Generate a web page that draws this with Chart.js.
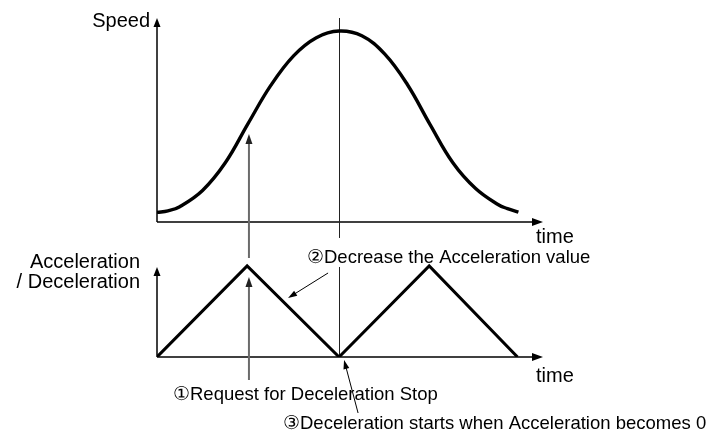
<!DOCTYPE html>
<html>
<head>
<meta charset="utf-8">
<script src="https://cdn.jsdelivr.net/npm/chart.js@4/dist/chart.umd.min.js"></script>
<style>
html,body{margin:0;padding:0;background:#fff}
canvas{display:block}
</style>
</head>
<body>
<canvas id="c" width="717" height="434"></canvas>
<script>
// speed profile: time (unit steps) vs speed (% of peak)
const speedTime=[0,0.12,0.25,0.5,0.75,1.0,1.25,1.5,1.75,2.0,2.25,2.5,2.75,3.0,3.25,3.5,3.75,3.85,3.97];
const speedVal=[5,5.8,8,16.5,31,51.5,71.5,87,96.5,100,97.5,88,72,51,31,17.5,9,7,5.2];
// acceleration / deceleration (% of max)
const accTime=[0,0.99,2,2.99,3.96];
const accVal=[0,100,0,100,0];

const BIG='20px "Liberation Sans", Arial, sans-serif';
const SMALL='18.5px "Liberation Sans", Arial, sans-serif';

function seg(ctx,x1,y1,x2,y2){ctx.beginPath();ctx.moveTo(x1,y1);ctx.lineTo(x2,y2);ctx.stroke();}

// line ending in a filled head at (x2,y2)
function arrow(ctx,x1,y1,x2,y2,len,half){
    const a=Math.atan2(y2-y1,x2-x1),c=Math.cos(a),s=Math.sin(a);
    seg(ctx,x1,y1,x2-c*len*0.6,y2-s*len*0.6);
    ctx.beginPath();
    ctx.moveTo(x2,y2);
    ctx.lineTo(x2-c*len+s*half,y2-s*len-c*half);
    ctx.lineTo(x2-c*len-s*half,y2-s*len+c*half);
    ctx.closePath();ctx.fill();
}

function txt(ctx,t,x,y,font,align){ctx.font=font;ctx.textAlign=align||'left';ctx.fillText(t,x,y);}

const diagram={
    id:'diagram',
    beforeDatasetsDraw(chart){
        const {ctx,chartArea:a}=chart;
        const {x,ySpeed,yAcc}=chart.scales;
        const x0=x.getPixelForValue(0),s0=ySpeed.getPixelForValue(0),ac0=yAcc.getPixelForValue(0),acTop=yAcc.getPixelForValue(100);
        ctx.save();
        ctx.strokeStyle='#000';ctx.fillStyle='#000';ctx.lineWidth=1.5;
        // axes
        arrow(ctx,x0,s0,x0,a.top,9,3.5);
        arrow(ctx,x0,s0,a.right,s0,11,4);
        arrow(ctx,x0,ac0,x0,acTop+1,9,3.5);
        arrow(ctx,x0,ac0,a.right,ac0,11,4);
        // guide through the speed peak
        const xp=Math.round(x.getPixelForValue(2))+0.5;
        ctx.strokeStyle='#222';ctx.lineWidth=1;
        seg(ctx,xp,a.top,xp,s0+16);
        seg(ctx,xp,acTop+1,xp,ac0);
        // deceleration stop request
        const xr=x.getPixelForValue(1.01);
        ctx.strokeStyle='#6b6b6b';ctx.fillStyle='#222';ctx.lineWidth=2;
        arrow(ctx,xr,ac0+23,xr,acTop+11,10,3.5);
        arrow(ctx,xr,acTop-8,xr,ySpeed.getPixelForValue(46),10,3.5);
        ctx.restore();
    },
    afterDatasetsDraw(chart){
        const {ctx}=chart;
        const {x,ySpeed,yAcc}=chart.scales;
        const s0=ySpeed.getPixelForValue(0),ac0=yAcc.getPixelForValue(0),acTop=yAcc.getPixelForValue(100);
        const xp=x.getPixelForValue(2);
        ctx.save();
        ctx.fillStyle='#000';ctx.strokeStyle='#000';ctx.lineWidth=1;
        // pointers for notes 2 and 3
        arrow(ctx,xp-11,acTop+7,xp-51,acTop+32,9,3);
        arrow(ctx,xp+19,ac0+56,xp+5,ac0+3,9,3);
        ctx.textBaseline='alphabetic';
        txt(ctx,'Speed',150,27,BIG,'right');
        txt(ctx,'time',536,s0+21,BIG);
        txt(ctx,'time',536,ac0+25,BIG);
        txt(ctx,'Acceleration',140,268,BIG,'right');
        txt(ctx,'/ Deceleration',140,288,BIG,'right');
        txt(ctx,'\u2461Decrease the Acceleration value',307,263,SMALL);
        txt(ctx,'\u2460Request for Deceleration Stop',173,400,SMALL);
        txt(ctx,'\u2462Deceleration starts when Acceleration becomes 0',283,429,SMALL);
        ctx.restore();
    }
};

new Chart(document.getElementById('c'),{
    type:'line',
    data:{datasets:[
        {label:'Speed',data:speedTime.map((t,i)=>({x:t,y:speedVal[i]})),yAxisID:'ySpeed',borderColor:'#000',borderWidth:3.4,pointRadius:0,tension:0.4,fill:false},
        {label:'Acceleration / Deceleration',data:accTime.map((t,i)=>({x:t,y:accVal[i]})),yAxisID:'yAcc',borderColor:'#000',borderWidth:3,pointRadius:0,tension:0,fill:false}
    ]},
    options:{
        responsive:false,animation:false,events:[],
        layout:{padding:{left:157,right:174,top:18,bottom:77}},
        plugins:{legend:{display:false},tooltip:{enabled:false}},
        scales:{
            x:{type:'linear',min:0,max:4.24,display:false},
            ySpeed:{type:'linear',axis:'y',min:-70.7,max:106.8,display:false},
            yAcc:{type:'linear',axis:'y',min:0,max:372.5,display:false}
        }
    },
    plugins:[diagram]
});
</script>
</body>
</html>
